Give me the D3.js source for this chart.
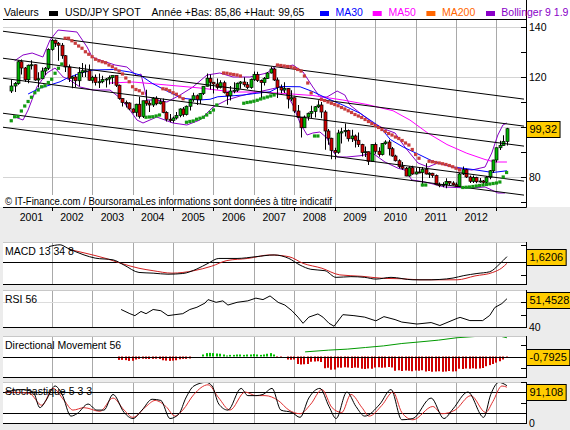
<!DOCTYPE html>
<html><head><meta charset="utf-8">
<script src="https://cdn.jsdelivr.net/npm/d3@7/dist/d3.min.js"></script>
<style>
html,body{margin:0;padding:0;background:#ececec;}
svg{display:block;font-family:"Liberation Sans",Arial,Helvetica,sans-serif;}
</style></head><body>
<svg id="chart" width="570" height="430"></svg>
<script>
// ---------------- DATA ----------------
const years = ["2001","2002","2003","2004","2005","2006","2007","2008","2009","2010","2011","2012"];
// monthly candles, Jan 2001 .. Apr 2013 (index 0..147)
const opens = [
114.4,116.4,117.4,126.1,123.6,118.9,124.7,124.9,118.8,119.3,122.4,123.5,
131.0,134.7,133.5,132.7,128.5,124.0,119.5,120.0,118.5,121.8,122.5,122.5,
118.7,119.9,117.8,118.1,119.0,119.2,119.8,120.6,116.7,111.4,109.8,109.6,
107.2,105.9,109.1,104.2,110.5,109.5,108.8,111.5,109.3,110.1,105.8,103.1,
102.6,103.6,104.6,107.2,105.0,108.3,110.9,112.5,111.0,113.4,116.3,119.5,
117.9,117.2,115.8,117.7,113.8,112.5,114.4,114.7,117.5,118.0,116.9,115.8,
119.0,121.0,118.6,117.8,119.4,121.6,123.2,118.8,115.8,114.8,115.4,111.2,
111.7,106.4,103.8,99.7,104.0,105.5,106.2,108.1,108.8,106.0,98.4,95.5,
90.6,89.9,97.6,98.1,98.6,95.3,96.4,94.7,93.0,89.8,90.1,86.3,
93.0,90.3,89.0,93.4,94.0,91.3,88.4,86.5,84.2,83.5,80.4,83.7,
81.2,82.0,81.8,83.1,81.2,81.5,80.6,76.9,76.6,77.0,78.2,77.6,
76.9,76.3,81.2,82.9,80.0,78.3,79.8,78.1,78.4,77.9,79.9,82.5,
86.8,91.7,92.6,94.2];
const highs = [
119.0,118.0,126.6,127.0,124.0,125.0,126.7,125.0,121.9,123.8,124.0,131.5,
135.2,135.0,134.0,133.6,128.8,125.0,120.5,121.0,124.0,125.6,125.0,125.0,
120.5,121.0,121.4,120.5,119.6,120.6,120.6,120.5,117.0,111.5,110.6,109.9,
107.5,109.3,112.1,110.5,114.9,110.6,112.0,112.3,111.2,111.4,106.3,105.2,
104.2,106.0,107.5,108.0,108.6,111.2,113.7,113.0,113.6,116.4,121.4,121.0,
118.0,119.4,118.7,118.5,114.0,116.4,117.9,117.8,118.4,119.9,118.0,119.4,
122.2,122.1,119.0,120.0,122.0,124.1,123.7,119.8,117.0,117.9,115.6,114.7,
111.8,108.8,103.8,104.6,105.8,108.5,108.4,110.7,110.0,106.7,99.2,95.7,
91.7,98.9,99.7,101.4,99.0,98.9,97.0,97.8,93.3,92.2,90.2,93.1,
93.8,91.9,93.6,94.7,94.9,92.0,88.9,87.1,86.0,84.0,84.3,84.5,
83.6,84.0,84.0,85.5,81.9,81.7,81.0,77.8,77.9,79.5,78.3,78.3,
77.8,81.6,84.2,83.3,80.6,80.6,80.1,79.6,78.8,80.4,82.8,86.9,
91.8,94.5,96.7,99.65];
const lows = [
113.6,114.0,116.9,121.0,118.0,117.5,123.0,118.5,115.8,119.5,120.8,122.8,
130.5,132.0,126.5,127.3,122.0,118.0,115.5,116.0,116.3,120.0,120.0,118.5,
117.5,116.6,115.6,117.5,115.8,117.0,117.2,116.0,110.9,108.2,107.8,106.7,
105.5,104.2,103.4,103.6,108.5,106.0,108.0,108.7,109.0,105.5,102.2,101.9,
101.7,103.0,103.9,104.1,104.6,106.6,110.1,108.8,109.2,112.8,116.2,115.0,
113.4,115.0,115.4,113.4,108.9,110.6,113.5,114.0,115.3,116.1,115.2,115.3,
118.4,118.0,111.6,116.6,119.2,121.4,118.4,111.6,113.5,113.6,107.4,110.3,
105.6,103.6,95.8,99.6,102.6,103.6,103.8,107.6,103.5,90.9,92.9,87.1,
87.1,89.3,93.4,96.2,94.2,94.0,91.8,92.0,88.2,88.0,84.8,86.2,
89.3,88.1,88.6,92.9,88.6,88.1,86.2,83.5,82.9,80.3,80.2,80.9,
81.0,81.5,76.3,81.0,79.6,79.7,76.7,75.9,75.9,75.5,76.8,76.6,
76.0,76.1,80.8,79.6,77.6,77.6,77.5,77.7,77.1,77.4,79.1,81.7,
85.86,90.8,92.5,92.6];
const closes = [
116.4,117.4,126.1,123.6,118.9,124.7,124.9,118.8,119.3,122.4,123.5,131.0,
134.7,133.5,132.7,128.5,124.0,119.5,120.0,118.5,121.8,122.5,122.5,118.7,
119.9,117.8,118.1,119.0,119.2,119.8,120.6,116.7,111.4,109.8,109.6,107.2,
105.9,109.1,104.2,110.5,109.5,108.8,111.5,109.3,110.1,105.8,103.1,102.6,
103.6,104.6,107.2,105.0,108.3,110.9,112.5,111.0,113.4,116.3,119.5,117.9,
117.2,115.8,117.7,113.8,112.5,114.4,114.7,117.5,118.0,116.9,115.8,119.0,
121.0,118.6,117.8,119.4,121.6,123.2,118.8,115.8,114.8,115.4,111.2,111.7,
106.4,103.8,99.7,104.0,105.5,106.2,108.1,108.8,106.0,98.4,95.5,90.6,
89.9,97.6,98.1,98.6,95.3,96.4,94.7,93.0,89.8,90.1,86.3,93.0,
90.3,89.0,93.4,94.0,91.3,88.4,86.5,84.2,83.5,80.4,83.7,81.2,
82.0,81.8,83.1,81.2,81.5,80.6,76.9,76.6,77.0,78.2,77.6,76.9,
76.3,81.2,82.9,80.0,78.3,79.8,78.1,78.4,77.9,79.9,82.5,86.8,
91.7,92.6,94.2,99.32];

// moving averages / Bollinger: [month index, price]
const ma30 = [[5,113.2],[8.4,115.5],[11.5,116.8],[14.5,118.1],[16.5,119.5],[20.4,121.5],[24.3,122.8],[30.3,123.0],[35.2,122.0],[38.2,120.8],[41.8,117.5],[45.6,114.8],[50.7,111.5],[55.9,110.8],[59.0,111.1],[61.3,112.1],[64.9,112.4],[68.8,112.8],[72.9,113.5],[76.8,114.1],[79.8,116.2],[85.7,116.1],[89.6,114.1],[93.6,111.5],[98.4,108.8],[103.5,105.5],[109.4,100.1],[112.5,95.0],[116.3,92.0],[121.0,89.0],[124.8,86.5],[131.1,84.0],[137.0,83.0],[142.9,81.8],[147.1,82.5]];
const ma50 = [[29.3,117.6],[36.1,118.0],[46.2,116.8],[56.0,115.6],[65.8,114.0],[73.8,114.0],[81.2,113.4],[89.5,112.6],[98.4,110.8],[105.6,109.0],[113.3,106.5],[118.3,102.8],[123.7,97.5],[129.3,93.0],[135.2,89.5],[140.6,87.0],[143.5,86.0],[147.1,86.0]];
const bbUpper = [[1.0,126.5],[3.5,128.8],[6.2,129.6],[9.4,128.0],[11.5,134.8],[13.9,138.8],[19.5,138.0],[22.5,132.0],[24.0,128.0],[26.3,126.8],[30.8,124.8],[34.3,124.0],[37.3,120.5],[38.5,121.2],[40.3,110.8],[43.2,110.8],[46.2,110.0],[50.1,112.8],[53.9,116.0],[58.1,120.8],[61.9,121.6],[65.8,120.0],[70.8,120.0],[75.9,121.6],[78.9,124.8],[81.2,124.0],[83.6,124.8],[86.6,122.0],[89.5,116.0],[91.6,112.0],[93.7,112.0],[96.7,114.4],[99.0,112.8],[100.5,108.8],[103.5,105.6],[107.3,101.6],[111.5,98.8],[113.9,97.6],[116.8,92.0],[120.7,85.6],[123.7,84.0],[126.6,85.6],[131.7,83.6],[136.7,82.8],[140.6,84.0],[142.6,89.6],[144.4,96.8],[145.9,100.8],[147.1,101.6]];
const bbLower = [[1.1,104.0],[3.5,102.8],[5.0,106.8],[7.6,116.0],[10.6,121.6],[13.0,123.6],[15.4,120.0],[17.4,118.8],[20.4,116.0],[24.3,114.8],[29.3,114.8],[32.3,111.6],[35.2,106.8],[37.3,102.8],[39.1,101.6],[43.2,104.0],[48.0,101.6],[52.1,100.8],[56.0,102.8],[59.9,108.0],[64.0,110.8],[67.9,112.4],[71.7,113.6],[75.9,114.8],[79.8,116.0],[81.8,112.8],[83.6,108.8],[85.7,101.6],[87.8,96.8],[89.5,97.6],[91.6,98.0],[93.7,95.6],[95.2,90.8],[96.7,88.0],[99.6,88.0],[103.5,88.5],[107.3,89.5],[110.9,86.0],[114.8,83.5],[116.8,82.8],[118.9,78.8],[122.8,78.0],[128.7,76.0],[135.5,75.6],[140.6,76.0],[142.6,74.8],[144.4,73.6],[146.5,73.6]];

// parabolic SAR segments: first month index + values
const sarUp = [
  {start:0,  v:[102.5,104.1,104.2,106.4,108.4,110.2,111.9,113.7,114.8,116.1,116.5,117.8,119.1,121.5,123.5,125.2]},
  {start:40, v:[103.9,104.0,104.1,104.4,104.8]},
  {start:52, v:[101.9,102.2,102.4,103.1,103.5,103.9,104.8,105.8,106.8,108.8]},
  {start:69, v:[109.5,109.8,110.0,110.3,110.7,111.2,111.6,112.0,112.4,112.8]},
  {start:90, v:[96.4,96.4]},
  {start:122,v:[76.8,76.8]},
  {start:134,v:[75.8,75.9,76.0,76.2,76.4,76.6,76.8,77.0,77.2,77.4,77.6,78.0,80.0,81.8]}
];
const sarDown = [
  {start:16, v:[135.5,135.5,134.5,133.5,132.4,131.5,130.1,129.1,128.1,127.1,126.5,126.1,125.7,124.8,124.1,123.2,122.4,121.2,119.6,118.1,116.1,115.0,114.5,113.5]},
  {start:45, v:[115.3,115.1,114.5,113.7,113.1,112.1,111.3]},
  {start:63, v:[121.6,121.5,121.2,121.0,120.8,120.4]},
  {start:79, v:[124.8,124.6,124.4,124.2,124.0,123.6,123.0,122.4,120.4,117.6,113.6]},
  {start:92, v:[111.0,110.6,110.0,109.5,109.0,108.5,107.8,107.2,106.5,105.8,105.0,104.4,103.8,103.0,102.2,101.4,100.6,99.8,99.0,98.2,97.4,96.8,96.0,95.4,94.6,93.6,92.8,91.0,89.0,87.5]},
  {start:124,v:[86.3,86.1,85.8,85.6,85.3,85.0,84.6,84.1,83.5,82.8]}
];
// regression channel lines: price at month -3 and at month 153
const channelLines = [[138.4,111.0],[127.6,100.2],[119.6,92.2],[105.6,78.2],[100.0,72.6]];
const channelSpan = [-3,153];

const priceTicks = [70,80,90,100,110,120,130,140];
const priceLabels = [140,120,80];
const priceGrid = [80,100,120,140];

// MACD 13 34 8
const macdLine = [[11.2,4.5],[14.5,5.0],[16.8,4.0],[21.6,2.1],[24.9,1.2],[30.2,0.7],[33.5,-0.8],[37.9,-2.9],[42.1,-3.1],[46.5,-3.4],[50.9,-3.2],[55.1,-1.9],[58.4,-0.3],[61.6,1.1],[67.0,1.1],[72.6,1.6],[78.0,2.1],[82.4,1.1],[85.7,-0.8],[88.9,-2.0],[93.1,-2.4],[96.4,-4.3],[100.8,-4.1],[104.9,-4.3],[108.2,-4.8],[112.7,-4.3],[119.2,-5.0],[124.6,-5.0],[127.2,-4.9],[131.1,-4.5],[134.3,-3.8],[138.2,-3.2],[142.0,-2.7],[145.0,-0.4],[147.1,1.62]];
const macdSignal = [[17.1,3.7],[21.6,2.7],[28.1,1.1],[32.6,-0.3],[37.9,-1.7],[42.1,-2.4],[47.7,-3.1],[54.2,-2.4],[59.5,-1.1],[64.0,0.5],[70.2,1.1],[76.8,2.1],[82.4,1.6],[86.6,-0.3],[92.2,-1.7],[97.5,-3.6],[104.1,-4.0],[110.6,-4.6],[115.9,-4.7],[121.3,-5.0],[132.3,-5.0],[137.6,-3.9],[142.9,-2.9],[145.6,-1.6],[147.1,-0.3]];
const macdTicks = [5,-3.5];

// RSI 56
const rsi = [[32.6,47.1],[35.2,45.4],[36.7,44.6],[38.5,46.3],[40.0,45.4],[42.1,47.1],[44.4,46.6],[46.5,44.6],[48.6,45.0],[50.9,45.4],[53.0,47.1],[55.1,48.0],[57.5,49.7],[58.4,51.1],[60.8,50.0],[62.8,50.6],[64.3,48.9],[67.0,50.0],[70.2,50.6],[72.6,51.7],[74.7,51.1],[76.8,52.6],[79.2,50.0],[81.2,48.9],[83.3,46.6],[85.1,44.0],[86.6,41.5],[88.3,44.0],[91.0,45.3],[92.5,44.0],[94.3,41.5],[95.8,40.3],[98.4,45.0],[101.7,44.6],[104.9,44.0],[108.2,42.5],[110.6,44.2],[113.9,43.0],[115.9,42.0],[120.4,41.2],[124.6,41.8],[127.2,40.6],[132.3,43.5],[133.2,43.9],[136.1,42.6],[139.9,42.6],[142.0,44.7],[143.5,47.9],[145.6,49.5],[147.1,51.45]];
const rsiTicks = [50,45,40];

// Directional movement 56
const dmStart = 32;
const dmBars = [
-2.7,-2.7,-2.9,-3.5,-3.4,-2.4,-1.9,-1.8,-1.9,-2.0,-1.9,-1.8,-2.0,-3.0,-3.3,-3.5,-3.3,-3.0,-2.2,-1.9,-1.9,-1.6,
0,0,0,
1.6,2.7,2.9,2.7,2.4,2.2,1.6,0.8,
1.3,1.3,1.6,1.6,1.3,1.6,1.6,1.9,1.6,1.3,1.6,2.2,2.7,1.6,
-1.0,-1.0,0,
-2.4,-2.6,-2.4,
-6.0,-6.4,-6.2,-6.0,
-4.2,-4.0,-3.8,-4.4,
-9.4,-9.0,-10.6,-10.4,
-8.8,-9.0,-8.6,-8.8,-9.2,-8.8,-9.0,
-9.8,-10.0,-9.6,-9.8,
-8.8,-8.6,-9.0,-8.8,-8.4,-8.8,
-11.4,-11.0,-11.6,-11.2,-11.4,-11.8,-11.2,-11.4,-11.0,
-12.0,-11.6,-12.2,-12.0,-11.8,-12.2,-12.0,-11.6,-12.0,-11.8,
-9.8,-10.0,-9.6,-9.8,-9.4,-9.8,-9.6,-9.2,
-7.8,-6.9,-6.0,-4.9,-3.8,-2.4,-0.79];
const dmLine = [[87.2,3.7],[94.2,5.1],[99.7,5.9],[105.1,7.2],[110.5,8.5],[115.9,10.4],[121.3,11.7],[126.8,13.1],[132.2,15.0],[138.7,16.2],[145.2,16.2],[147.1,15.0]];
const dmTicks = [9,-9];

// Stochastique 5 3 3
const stochK = [[-1.7,75.6],[3.2,81.5],[6.5,75.6],[8.5,37.4],[10.3,55],[13.0,90.3],[15.1,69.7],[17.7,16.8],[19.5,22.6],[22.8,46.2],[25.4,31.5],[27.5,31.5],[30.2,69.7],[33.5,25.6],[36.1,10.9],[38.8,31.5],[41.8,57.9],[44.4,55],[47.1,10.9],[49.8,22.6],[51.8,60.9],[54.2,90.3],[57.8,99.1],[59.6,90.3],[61.6,46.2],[64.3,31.5],[68.2,84.4],[70.2,66.8],[72.6,66.8],[74.7,69.7],[77.4,84.4],[80.0,31.5],[83.3,25.6],[85.7,13.8],[88.3,60.9],[91.6,84.4],[94.3,40.3],[96.4,10.9],[99.6,75.6],[102.3,40.3],[104.9,16.8],[109.4,46.2],[112.7,81.5],[115.9,7.9],[119.2,10.9],[124.6,60.9],[128.4,10.9],[131.1,34.4],[135.5,75.6],[140.2,13.8],[142.3,69.7],[144.7,99.1],[147.1,91.1]];
const stochD = [[-1.7,75.6],[5.3,72.6],[9.1,43.2],[12.4,84.4],[15.7,55],[18.3,31.5],[21.6,37.4],[26.3,28.5],[30.2,60.9],[33.5,31.5],[36.1,13.8],[40.0,40.3],[42.7,55],[45.9,40.3],[48.6,16.8],[50.9,31.5],[54.2,69.7],[58.4,93.2],[61.6,60.9],[64.9,31.5],[69.4,75.6],[72.6,66.8],[75.3,66.8],[79.2,55],[82.4,31.5],[85.7,22.6],[88.9,46.2],[92.2,81.5],[95.2,37.4],[98.1,25.6],[100.8,69.7],[104.1,37.4],[106.2,16.8],[110.0,43.2],[113.3,75.6],[115.9,25.6],[119.2,7.9],[125.1,40.3],[127.8,22.6],[131.7,31.5],[136.4,66.8],[140.8,25.6],[142.9,52],[145.6,90.3],[147.1,87.4]];
const stochTicks = [100,50,0];
const stochLevels = [75,25];

const lastLabels = {price:"99,32", macd:"1,6206", rsi:"51,4528", dm:"-0,7925", stoch:"91,108"};
const header = {valeurs:"Valeurs", instrument:"USD/JPY SPOT", range:"Année +Bas: 85,86 +Haut: 99,65"};
const legend = [
  {name:"MA30", color:"#0000ff"},
  {name:"MA50", color:"#ff00ff"},
  {name:"MA200", color:"#ff6600"},
  {name:"Bollinger 9 1.9", color:"#8a00c8"}
];
const copyright = "© IT-Finance.com / BoursoramaLes informations sont données à titre indicatif";

// ---------------- DRAWING ----------------
const svg = d3.select("#chart");
const FS = "10.5px";
svg.append("rect").attr("width",570).attr("height",430).attr("fill","#ececec");
svg.append("rect").attr("x",0).attr("y",0).attr("width",570).attr("height",207).attr("fill","#ffffff");

const x = d3.scaleLinear().domain([0,147]).range([11.25,506.6]);
const yP = d3.scaleLinear().domain([68,142.8]).range([207,20]);
const AX = 526;
const defs = svg.append("defs");
defs.append("clipPath").attr("id","clipMain").append("rect").attr("x",3).attr("y",20).attr("width",521).attr("height",187);

const yearIdx = years.map((d,i)=>12*(i+1));
const gridGray = "#a9a9a9";

// horizontal grid
svg.append("g").selectAll("line").data(priceGrid).join("line")
  .attr("x1",3).attr("x2",AX).attr("y1",d=>Math.round(yP(d))+0.5).attr("y2",d=>Math.round(yP(d))+0.5)
  .attr("stroke","#d4d4d4").attr("stroke-width",1);
// vertical grid
svg.append("g").selectAll("line").data(yearIdx).join("line")
  .attr("x1",d=>Math.round(x(d))+0.5).attr("x2",d=>Math.round(x(d))+0.5).attr("y1",20).attr("y2",207)
  .attr("stroke",gridGray).attr("stroke-width",1);

const main = svg.append("g").attr("clip-path","url(#clipMain)");
const lineP = d3.line().x(d=>x(d[0])).y(d=>yP(d[1]));

// Bollinger + MAs
[bbUpper,bbLower].forEach(s=>main.append("path").attr("d",lineP(s)).attr("fill","none").attr("stroke","#8a00c8").attr("stroke-width",1));
main.append("path").attr("d",lineP(ma50)).attr("fill","none").attr("stroke","#ff00ff").attr("stroke-width",1);
main.append("path").attr("d",lineP(ma30)).attr("fill","none").attr("stroke","#0000ff").attr("stroke-width",1);

// candles
const cand = closes.map((c,i)=>({i,o:opens[i],h:highs[i],l:lows[i],c}));
const cg = main.append("g");
cg.selectAll("line").data(cand).join("line")
  .attr("x1",d=>Math.round(x(d.i))+0.5).attr("x2",d=>Math.round(x(d.i))+0.5)
  .attr("y1",d=>yP(d.h)).attr("y2",d=>yP(d.l)).attr("stroke","#000").attr("stroke-width",1);
cg.selectAll("rect").data(cand).join("rect")
  .attr("x",d=>Math.round(x(d.i))-1).attr("width",3)
  .attr("y",d=>yP(Math.max(d.o,d.c)))
  .attr("height",d=>Math.max(1,yP(Math.min(d.o,d.c))-yP(Math.max(d.o,d.c))))
  .attr("fill",d=>d.c>=d.o?"#00b400":"#d00000").attr("stroke","#000").attr("stroke-width",0.7);

// channel lines
main.append("g").selectAll("line").data(channelLines).join("line")
  .attr("x1",x(channelSpan[0])).attr("x2",x(channelSpan[1]))
  .attr("y1",d=>yP(d[0])).attr("y2",d=>yP(d[1]))
  .attr("stroke","#000").attr("stroke-width",1);

// SAR dots
function sarDots(segs,color){
  const pts=[]; segs.forEach(s=>s.v.forEach((v,k)=>pts.push([s.start+k,v])));
  main.append("g").selectAll("rect").data(pts).join("rect")
    .attr("x",d=>x(d[0])-1.6).attr("y",d=>yP(d[1])-1.6).attr("width",3.2).attr("height",3.2).attr("fill",color);
}
sarDots(sarDown,"#c83c3c");
sarDots(sarUp,"#129a12");

// copyright
svg.append("rect").attr("x",3).attr("y",195).attr("width",331).attr("height",12).attr("fill","#fff");
svg.append("text").attr("x",5).attr("y",205).attr("font-size","10px").attr("textLength",327).attr("lengthAdjust","spacingAndGlyphs").text(copyright);

// main frame
svg.append("line").attr("x1",3).attr("x2",AX).attr("y1",19.5).attr("y2",19.5).attr("stroke","#000");
svg.append("line").attr("x1",3).attr("x2",AX+0.5).attr("y1",207.5).attr("y2",207.5).attr("stroke","#000");
svg.append("line").attr("x1",AX+0.5).attr("x2",AX+0.5).attr("y1",0).attr("y2",207.5).attr("stroke","#000");
// price ticks/labels
svg.append("g").selectAll("line").data(priceTicks).join("line")
  .attr("x1",AX-5).attr("x2",AX).attr("y1",d=>Math.round(yP(d))+0.5).attr("y2",d=>Math.round(yP(d))+0.5).attr("stroke","#000");
svg.append("g").selectAll("text").data(priceLabels).join("text")
  .attr("x",AX+3).attr("y",d=>yP(d)+4).attr("font-size",FS).text(d=>d);
// year ticks + labels
svg.append("g").selectAll("line").data(yearIdx).join("line")
  .attr("x1",d=>Math.round(x(d))+0.5).attr("x2",d=>Math.round(x(d))+0.5).attr("y1",207).attr("y2",211).attr("stroke","#000");
svg.append("g").selectAll("text").data(years).join("text")
  .attr("x",(d,i)=>x(12*i+6)).attr("y",221).attr("text-anchor","middle").attr("font-size","10.5px").text(d=>d);

// value box helper
function valueBox(yc,txt){
  const g=svg.append("g");
  const r=g.append("rect").attr("x",526.5).attr("y",Math.round(yc)-8+0.5).attr("height",16).attr("fill","#ffcc00").attr("stroke","#000");
  const t=g.append("text").attr("x",529.5).attr("y",Math.round(yc)+4).attr("font-size","11px").text(txt);
  r.attr("width",t.node().getComputedTextLength()+6);
}
valueBox(yP(99.32),lastLabels.price);

// header
const hy=16;
svg.append("text").attr("x",4).attr("y",hy).attr("font-size",FS).text(header.valeurs);
svg.append("rect").attr("x",49).attr("y",11).attr("width",9).attr("height",5).attr("fill","#000");
svg.append("text").attr("x",65).attr("y",hy).attr("font-size",FS).text(header.instrument);
svg.append("text").attr("x",151.5).attr("y",hy).attr("font-size",FS).text(header.range);
const legX=[[320,335.4],[372.7,388.4],[426.4,442],[486,501.3]];
legend.forEach((l,i)=>{
  svg.append("rect").attr("x",legX[i][0]).attr("y",11).attr("width",9).attr("height",5).attr("fill",l.color);
  svg.append("text").attr("x",legX[i][1]).attr("y",hy).attr("font-size",FS).attr("fill",l.color).text(l.name);
});

// sub panels
function panel(top,bottom,domain,id){
  const y=d3.scaleLinear().domain(domain).range([bottom,top]);
  svg.append("rect").attr("x",3).attr("y",top).attr("width",AX-3).attr("height",bottom-top).attr("fill","#fff");
  defs.append("clipPath").attr("id",id).append("rect").attr("x",3).attr("y",top).attr("width",AX-3).attr("height",bottom-top);
  svg.append("g").selectAll("line").data(yearIdx).join("line")
    .attr("x1",d=>Math.round(x(d))+0.5).attr("x2",d=>Math.round(x(d))+0.5).attr("y1",top).attr("y2",bottom)
    .attr("stroke",gridGray);
  const g=svg.append("g").attr("clip-path",`url(#${id})`);
  return {y,g,top,bottom};
}
function frame(p,ticks){
  svg.append("line").attr("x1",3).attr("x2",AX).attr("y1",p.top+0.5).attr("y2",p.top+0.5).attr("stroke","#c8c8c8");
  svg.append("line").attr("x1",3).attr("x2",AX+1).attr("y1",p.bottom+0.5).attr("y2",p.bottom+0.5).attr("stroke","#000");
  svg.append("line").attr("x1",AX+0.5).attr("x2",AX+0.5).attr("y1",p.top).attr("y2",p.bottom+1).attr("stroke","#000");
  svg.append("g").selectAll("line").data(ticks).join("line")
    .attr("x1",AX-5).attr("x2",AX).attr("y1",d=>Math.round(p.y(d))+0.5).attr("y2",d=>Math.round(p.y(d))+0.5).attr("stroke","#000");
}
function hline(p,v,color){
  p.g.append("line").attr("x1",3).attr("x2",AX).attr("y1",Math.round(p.y(v))+0.5).attr("y2",Math.round(p.y(v))+0.5).attr("stroke",color);
}
function title(p,txt){
  svg.append("text").attr("x",5).attr("y",p.top+13).attr("font-size",FS).text(txt);
}
function boxFor(p,v,txt){
  const yc=Math.max(p.top+10,Math.min(p.bottom-8,p.y(v)));
  valueBox(yc,txt);
}
function pline(p,data,color,curve){
  const gen=d3.line().x(d=>x(d[0])).y(d=>p.y(d[1]));
  if(curve) gen.curve(curve);
  p.g.append("path").attr("d",gen(data)).attr("fill","none").attr("stroke",color).attr("stroke-width",1);
}

// MACD
const pm=panel(242,284,[-6.2,5.8],"cMacd");
hline(pm,0,"#000");
title(pm,"MACD 13 34 8");
pline(pm,macdSignal,"#d02020",d3.curveMonotoneX);
pline(pm,macdLine,"#000",d3.curveMonotoneX);
frame(pm,macdTicks);
boxFor(pm,1.62,lastLabels.macd);

// RSI
const pr=panel(290,327,[40,55],"cRsi");
hline(pr,50,"#dcdcdc");
title(pr,"RSI 56");
pline(pr,rsi,"#000");
frame(pr,rsiTicks);
svg.append("text").attr("x",AX+3).attr("y",pr.y(40)+4).attr("font-size",FS).text("40");
boxFor(pr,51.45,lastLabels.rsi);

// DM
const pd=panel(336,377,[-16.4,16.4],"cDm");
title(pd,"Directional Movement 56");
pd.g.append("g").selectAll("rect").data(dmBars.map((v,k)=>[dmStart+k,v]).filter(d=>d[1]!==0)).join("rect")
  .attr("x",d=>Math.round(x(d[0]))-1).attr("width",2)
  .attr("y",d=>Math.min(pd.y(0),pd.y(d[1]))).attr("height",d=>Math.abs(pd.y(d[1])-pd.y(0)))
  .attr("fill",d=>d[1]<0?"#d00000":"#00c000");
hline(pd,0,"#000");
pline(pd,dmLine,"#009900");
frame(pd,dmTicks);
boxFor(pd,-0.79,lastLabels.dm);

// Stoch
const ps=panel(382,423,[0,100],"cSto");
hline(ps,100,"#d0d0d0");
stochLevels.forEach(v=>hline(ps,v,"#000"));
title(ps,"Stochastique 5 3 3");
pline(ps,stochD,"#e03030",d3.curveMonotoneX);
pline(ps,stochK,"#000",d3.curveMonotoneX);
frame(ps,stochTicks);
svg.append("text").attr("x",AX+3).attr("y",ps.y(0)+4).attr("font-size",FS).text("0");
boxFor(ps,91.1,lastLabels.stoch);
</script></body></html>
